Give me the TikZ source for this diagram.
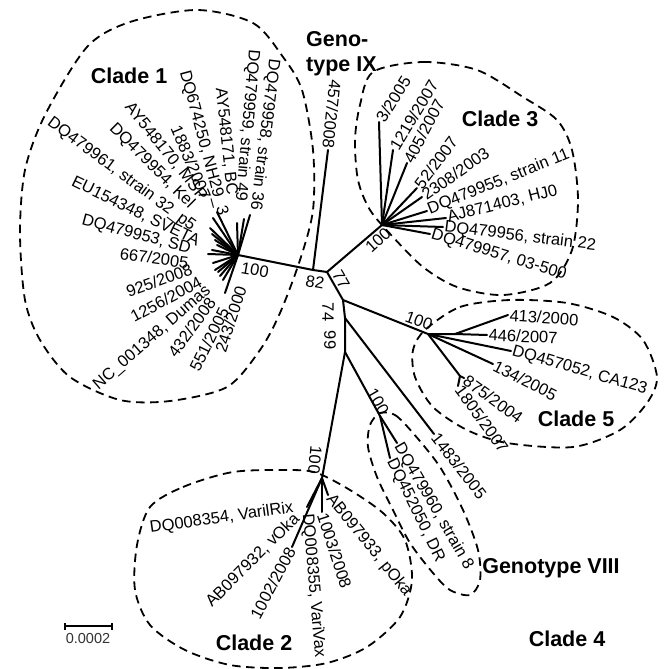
\documentclass[tikz,border=0pt]{standalone}
\usepackage{fontspec}
\setmainfont{Liberation Sans}
\begin{document}
\begin{tikzpicture}[x=1pt,y=-1pt,
  br/.style={line width=2pt, line cap=round},
  hull/.style={line width=1.8pt, dash pattern=on 8.5pt off 5.5pt},
  lf/.style={inner sep=1.5pt, font=\fontsize{16.5}{19}\selectfont},
  lfin/.style={lf, anchor=east},
  lfout/.style={lf, anchor=west},
  bootv/.style={inner sep=0pt, font=\fontsize{16.5}{19}\selectfont},
  cl/.style={inner sep=0pt, font=\fontsize{21.5}{25}\selectfont\bfseries}]
\useasboundingbox (0,0) rectangle (669,669);

% ---------- clade hulls ----------
\draw[hull] plot[smooth cycle] coordinates {(197,10) (253,23) (283,57) (302,90) (313,150) (313,210) (300,260) (280,313) (260,350) (227,387) (170,401) (120,400) (70,377) (40,340) (25,300) (20,233) (25,170) (45,115) (87,47) (130,22)};
\draw[hull] plot[smooth cycle] coordinates {(373,72) (423,62) (477,70) (523,97) (557,120) (572,150) (578,200) (572,250) (550,283) (503,295) (457,287) (423,267) (393,237) (370,210) (358,180) (355,140) (360,105)};
\draw[hull] plot[smooth cycle] coordinates {(425,330) (460,307) (510,300) (567,303) (613,317) (643,340) (657,377) (647,403) (620,430) (573,447) (507,443) (467,430) (433,407) (415,377) (413,350)};
\draw[hull] plot[smooth cycle] coordinates {(380,413) (395,415) (413,433) (440,467) (463,510) (478,550) (480,580) (470,595) (450,590) (433,573) (410,543) (393,510) (377,477) (368,447) (370,425)};
\draw[hull] plot[smooth cycle] coordinates {(150,507) (183,487) (233,472) (290,470) (317,473) (350,490) (383,513) (405,540) (412,580) (400,617) (367,647) (327,663) (280,668) (230,665) (185,650) (150,625) (135,590) (137,545)};

% ---------- internal nodes ----------
\coordinate (c1) at (238,255);
\coordinate (na) at (313,270);
\coordinate (nb) at (327,272);
\coordinate (nc) at (343,300);
\coordinate (nd) at (345,318);
\coordinate (ne) at (345,352);
\coordinate (c3) at (382,225);
\coordinate (c5) at (428,334);
\coordinate (c5s) at (455,334);
\coordinate (c5t) at (460,376);
\coordinate (c4) at (380,416);
\coordinate (c2) at (322,478);
\coordinate (c2t) at (307,507);

\draw[br] (c1) -- (na) -- (nb) -- (nc) -- (nd) -- (ne);
\draw[br] (nb) -- (c3);
\draw[br] (nc) -- (c5);
\draw[br] (ne) -- (c4);
\draw[br] (ne) -- (c2);

% ---------- genotype IX ----------
\node[lfin, rotate=-96] (g457) at (328,150) {457/2008};
\draw[br] (na) -- (g457.east);

% ---------- genotype VIII ----------
\node[lfout, rotate=-52] (g1483) at (434,434) {1483/2005};
\draw[br] (nd) -- (g1483.west);

% ---------- clade 3 ----------
\node[lfout, rotate=58] (l3a) at (379,122) {3/2005};
\node[lfout, rotate=59] (l3b) at (393,150) {1219/2007};
\node[lfout, rotate=62] (l3c) at (407,163) {405/2007};
\node[lfout, rotate=53] (l3d) at (417,188) {52/2007};
\node[lfout, rotate=35] (l3e) at (422,197) {2308/2003};
\node[lfout, rotate=22] (l3f) at (427,211) {DQ479955, strain 11};
\node[lfout, rotate=14] (l3g) at (446,218) {AJ871403, HJ0};
\node[lfout, rotate=-7] (l3h) at (443,227) {DQ479956, strain 22};
\node[lfout, rotate=-17] (l3i) at (430,234) {DQ479957, 03-500};
\foreach \l in {l3a,l3b,l3c,l3d,l3e,l3f,l3g,l3h,l3i} \draw[br] (c3) -- (\l.west);

% ---------- clade 5 ----------
\node[lfout, rotate=-4] (l5a) at (508,315) {413/2000};
\node[lfout, rotate=-2] (l5b) at (487,335) {446/2007};
\node[lfout, rotate=-16] (l5c) at (511,351) {DQ457052, CA123};
\node[lfout, rotate=-27] (l5d) at (493,364) {134/2005};
\node[lfout, rotate=-36] (l5e) at (464,378) {875/2004};
\node[lfout, rotate=-54] (l5f) at (458,386) {1805/2007};
\draw[br] (c5) -- (c5s) -- (l5b.west);
\draw[br] (c5s) -- (l5a.west);
\draw[br] (c5) -- (l5c.west);
\draw[br] (c5) -- (l5d.west);
\draw[br] (c5) -- (c5t);
\draw[br] (c5t) -- (l5e.west);
\draw[br] (c5t) -- (l5f.west);

% ---------- clade 4 ----------
\node[lfout, rotate=-60] (l4a) at (397,443) {DQ479960, strain 8};
\node[lfout, rotate=-64] (l4b) at (390,458) {DQ452050, DR};
\draw[br] (c4) -- (l4a.west);
\draw[br] (c4) -- (l4b.west);

% ---------- clade 2 ----------
\node[lfin, rotate=8] (l2a) at (295,508) {DQ008354, VarilRix};
\node[lfin, rotate=45] (l2b) at (298,515) {AB097932, vOka};
\node[lfin, rotate=62] (l2c) at (292,547) {1002/2008};
\node[lfout, rotate=-85] (l2d) at (307,512) {DQ008355, VariVax};
\node[lfout, rotate=-72] (l2e) at (322,512) {1003/2008};
\node[lfout, rotate=-51] (l2f) at (328,495) {AB097933, pOka};
\draw[br] (c2) -- (c2t);
\draw[br] (c2) -- (l2c.east);
\draw[br] (c2) -- (l2e.west);
\draw[br] (c2) -- (l2f.west);

% ---------- clade 1 ----------
\node[lfin, rotate=-97] (l1a) at (255,212) {DQ479958, strain 36};
\node[lfin, rotate=-95] (l1b) at (240,203) {DQ479959, strain 49};
\node[lfin, rotate=-84] (l1c) at (232,197) {AY548171, BC};
\node[lfin, rotate=-75] (l1d) at (223,217) {DQ674250, NH29\_3};
\node[lfin, rotate=-67] (l1e) at (207,200) {1883/2007};
\node[lfin, rotate=-51] (l1f) at (205,200) {AY548170, MSP};
\node[lfin, rotate=-45] (l1g) at (193,207) {DQ479954, Kel};
\node[lfin, rotate=-36.5] (l1h) at (195,229) {DQ479961, strain 32\_p5};
\node[lfin, rotate=-26] (l1i) at (200,243) {EU154348, SVETA};
\node[lfin, rotate=-15] (l1j) at (192,250) {DQ479953, SD};
\node[lfin, rotate=-8] (l1k) at (190,263) {667/2005};
\node[lfin, rotate=20] (l1l) at (193,268) {925/2008};
\node[lfin, rotate=28] (l1m) at (202,280) {1256/2004};
\node[lfin, rotate=41] (l1n) at (210,288) {NC\_001348, Dumas};
\node[lfin, rotate=54] (l1o) at (213,298) {432/2008};
\node[lfin, rotate=64] (l1p) at (225,307) {551/2005};
\node[lfin, rotate=72] (l1q) at (242,285) {243/2000};
\foreach \p in {(250,215),(244,219),(237,223),(217,212),(213,218),(210,228),(212,234),(215,240),(217,245),(212,250),(208,254),(213,263),(215,270),(218,272),(220,276),(223,280),(225,293)}
  \draw[br] (c1) -- \p;

% ---------- support values ----------
\node[bootv, rotate=-10] (s1) at (255,270) {100};
\node[bootv, rotate=-10] (s82) at (315,282) {82};
\node[bootv, rotate=-60] (s77) at (341,280) {77};
\node[bootv, rotate=-90] (s74) at (328,312) {74};
\node[bootv, rotate=-90] (s99) at (330,340) {99};
\node[bootv, rotate=42] (s3) at (378,240) {100};
\node[bootv, rotate=-20] (s5) at (419,321) {100};
\node[bootv, rotate=-60] (s4) at (378,402) {100};
\node[bootv, rotate=-95] (s2) at (315,460) {100};

% ---------- group labels ----------
\node[cl] (k1) at (129,76) {Clade 1};
\node[cl, anchor=north west, align=left] (k9) at (306,31) {Geno-\\type IX};
\node[cl] (k3) at (500,119) {Clade 3};
\node[cl] (k5) at (576,419) {Clade 5};
\node[cl] (k8) at (551,568) {Genotype VIII};
\node[cl] (k4) at (567,639) {Clade 4};
\node[cl] (k2) at (254,643) {Clade 2};

% ---------- scale bar ----------
\coordinate (sb1) at (65,626);
\coordinate (sb2) at (112,626);
\draw[line width=1.6pt] (sb1) -- (sb2);
\draw[line width=1.6pt] ([yshift=-3.5pt]sb1) -- ([yshift=3.5pt]sb1);
\draw[line width=1.6pt] ([yshift=-3.5pt]sb2) -- ([yshift=3.5pt]sb2);
\node[inner sep=0pt, font=\fontsize{14.5}{17}\selectfont, text=black!80] (sbl) at (88,639) {0.0002};
\end{tikzpicture}
\end{document}
